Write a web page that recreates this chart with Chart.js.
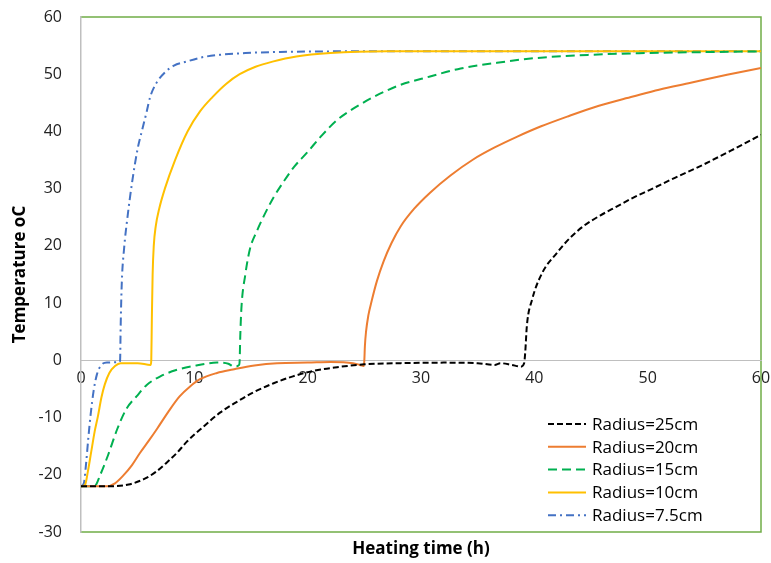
<!DOCTYPE html>
<html>
<head>
<meta charset="utf-8">
<script src="https://cdn.jsdelivr.net/npm/chart.js@4.4.1/dist/chart.umd.min.js"></script>
<style>
  html, body { margin: 0; padding: 0; background: #fff; }
  #wrap { width: 771px; height: 563px; position: relative; }
</style>
</head>
<body>
<div id="wrap"><canvas id="heatChart"></canvas></div>
<script>
// Heating curves, time in hours / temperature in oC
const r25Time = [0, 2.8, 4.2, 5.5, 6.6, 7.6, 8.5, 9.3, 10.8, 12.3, 13.8, 15.2, 17, 18.7, 20.6, 22.6, 25, 28, 32, 35, 36.5, 37, 38, 38.8,
  39.1, 39.2, 39.34, 39.8, 40.7, 42.0, 43.1, 44.3, 45.8, 47.3, 48.7, 50.2, 52.4, 54.6, 57.3, 60];
const r25Temp = [-22, -22, -21.7, -20.8, -19.5, -17.8, -16.1, -14.3, -11.6, -9.1, -7.2, -5.6, -4, -2.8, -1.8, -1.2, -0.7, -0.5, -0.4, -0.5, -0.8, -0.5, -0.8, -1.1,
  -0.5, 1.5, 6.0, 10.6, 15.3, 18.8, 21.3, 23.4, 25.3, 26.9, 28.4, 29.8, 31.9, 33.9, 36.6, 39.4];

const r20Time = [0, 2.3, 3, 3.7, 4.5, 5.2, 6, 6.7, 7.7, 8.7, 9.6, 10.5, 12, 13.4, 15.3, 17.3, 20, 22, 24, 24.6, 24.95,
  25.0, 25.05, 25.15, 25.35, 25.65, 26.1, 26.7, 27.4, 28.2, 29.4, 30.8, 32.6, 34.6, 36.5, 38.5, 40.6, 42.9, 45.7, 48.7, 51, 53.8, 57, 60];
const r20Temp = [-22, -22, -21.5, -20.2, -18.3, -16.2, -14, -12, -9, -6.3, -4.6, -3.3, -2.2, -1.6, -0.9, -0.5, -0.4, -0.3, -0.5, -0.8, -1.0,
  0, 2.5, 5, 7.8, 10.4, 13.8, 17.3, 20.5, 23.4, 26.5, 29.3, 32.3, 35.1, 37.2, 39.1, 40.9, 42.6, 44.5, 46.1, 47.3, 48.5, 49.9, 51.1];

const r15Time = [0, 1.2, 1.7, 2.4, 3.2, 4.0, 4.9, 5.8, 7, 8.4, 9.9, 12, 13, 13.5, 13.95,
  14.0, 14.05, 14.15, 14.5, 14.9, 15.5, 16.2, 17.0, 17.8, 18.8, 19.9, 21.2, 22.6, 24.2, 25.8, 28, 30.8, 33.5, 36.7, 40, 45, 50, 60];
const r15Temp = [-22, -22, -20, -16.5, -12, -8.5, -6.3, -4.3, -2.8, -1.7, -1, -0.4, -0.6, -1.1, -0.8,
  0, 4, 9, 15, 19.4, 22.5, 25.5, 28.5, 31, 33.8, 36.2, 39.2, 42, 44.2, 46, 48, 49.6, 51, 52, 52.8, 53.4, 53.7, 54];

const r10Time = [0, 0.35, 0.6, 0.9, 1.2, 1.5, 1.8, 2.1, 2.5, 3.0, 3.5, 5, 6.15,
  6.2, 6.25, 6.32, 6.42, 6.6, 6.9, 7.4, 8.3, 9.4, 10.5, 11.6, 12.8, 14, 15.4, 16.9, 19, 22, 27, 60];
const r10Temp = [-22, -21.8, -19.5, -16, -12.5, -9.7, -6.5, -4.2, -2.2, -1, -0.5, -0.5, -0.8,
  0, 7, 15, 20, 23.5, 26.5, 30, 35, 40, 43.5, 46, 48.3, 50, 51.3, 52.2, 53.1, 53.7, 54, 54];

const r75Time = [0, 0.25, 0.45, 0.65, 0.85, 1.1, 1.4, 1.8, 2.3, 3.4,
  3.45, 3.5, 3.6, 3.8, 4.1, 4.5, 5.0, 5.4, 5.8, 6.1, 6.6, 7.4, 8.2, 9.3, 10.8, 12.3, 14.5, 17.6, 25, 60];
const r75Temp = [-22, -21.5, -18, -13.5, -9.5, -5.5, -2.5, -0.8, -0.4, -0.3,
  0, 6, 13.6, 19.5, 25, 31, 37, 40.3, 43.5, 46, 48.3, 50.3, 51.5, 52.2, 53, 53.4, 53.7, 53.9, 54, 54];

const seriesNames = ['Radius=25cm', 'Radius=20cm', 'Radius=15cm', 'Radius=10cm', 'Radius=7.5cm'];
const xTicks = [0, 10, 20, 30, 40, 50, 60];
const yTicks = [-30, -20, -10, 0, 10, 20, 30, 40, 50, 60];

const pts = (xs, ys) => xs.map((x, i) => ({ x: x, y: ys[i] }));

const FONT = "'Open Sans', 'Noto Sans', sans-serif";

const lineStyles = [
  { color: '#000000', dash: [6, 3] },
  { color: '#ED7D31', dash: [] },
  { color: '#00B050', dash: [9, 5] },
  { color: '#FFC000', dash: [] },
  { color: '#4472C4', dash: [8, 4, 2, 4] }
];

const seriesData = [
  pts(r25Time, r25Temp),
  pts(r20Time, r20Temp),
  pts(r15Time, r15Temp),
  pts(r10Time, r10Temp),
  pts(r75Time, r75Temp)
];

// green frame around the plot area, left edge stays the grey axis line
const plotFrame = {
  id: 'plotFrame',
  beforeDraw(chart) {
    const { ctx, chartArea: a } = chart;
    ctx.save();
    ctx.strokeStyle = '#70AD47';
    ctx.lineWidth = 1.5;
    ctx.beginPath();
    ctx.moveTo(a.left, a.top);
    ctx.lineTo(a.right, a.top);
    ctx.lineTo(a.right, a.bottom);
    ctx.lineTo(a.left, a.bottom);
    ctx.stroke();
    ctx.restore();
  },
  afterDraw(chart) {
    const { ctx, chartArea: a } = chart;
    ctx.save();
    // x axis title under the plot
    ctx.fillStyle = '#000';
    ctx.font = "bold 17px " + FONT;
    ctx.textAlign = 'center';
    ctx.textBaseline = 'middle';
    ctx.fillText('Heating time (h)', (a.left + a.right) / 2, a.bottom + 17);

    // legend box in the lower right corner
    ctx.font = "17px " + FONT;
    ctx.textAlign = 'left';
    chart.data.datasets.forEach((ds, i) => {
      const y = a.bottom - 108 + i * 22.8;
      const x0 = a.right - 213;
      ctx.strokeStyle = ds.borderColor;
      ctx.lineWidth = 2;
      ctx.setLineDash(ds.borderDash || []);
      ctx.beginPath();
      ctx.moveTo(x0, y);
      ctx.lineTo(x0 + 38, y);
      ctx.stroke();
      ctx.setLineDash([]);
      ctx.fillStyle = '#000';
      ctx.fillText(ds.label, x0 + 44, y + 1);
    });
    ctx.restore();
  }
};

new Chart(document.getElementById('heatChart'), {
  type: 'line',
  data: {
    datasets: seriesData.map((d, i) => ({
      label: seriesNames[i],
      data: d,
      borderColor: lineStyles[i].color,
      backgroundColor: lineStyles[i].color,
      borderDash: lineStyles[i].dash,
      borderWidth: 2,
      pointRadius: 0,
      fill: false,
      cubicInterpolationMode: 'monotone'
    }))
  },
  options: {
    responsive: true,
    maintainAspectRatio: false,
    animation: false,
    layout: { padding: { top: 17, right: 10, bottom: 31, left: 0 } },
    plugins: {
      legend: { display: false },
      tooltip: { enabled: false }
    },
    scales: {
      x: {
        type: 'linear',
        position: { y: 0 },
        min: 0,
        max: 60,
        afterBuildTicks: (scale) => { scale.ticks = xTicks.map(v => ({ value: v })); },
        afterFit: (scale) => { scale.paddingLeft = 0; scale.paddingRight = 0; },
        grid: { display: false, drawTicks: false },
        border: { display: true, color: '#BFBFBF', width: 1 },
        ticks: { color: '#222', padding: 9, font: { size: 16, family: FONT }, maxRotation: 0 }
      },
      y: {
        min: -30,
        max: 60,
        afterBuildTicks: (scale) => { scale.ticks = yTicks.map(v => ({ value: v })); },
        afterFit: (scale) => { scale.width = 81; scale.paddingTop = 0; scale.paddingBottom = 0; },
        grid: { display: false, drawTicks: false },
        border: { display: true, color: '#BFBFBF', width: 1.5 },
        ticks: { color: '#222', padding: 19, font: { size: 16, family: FONT } },
        title: {
          display: true,
          text: 'Temperature oC',
          color: '#000',
          font: { size: 17, weight: 'bold', family: FONT },
          padding: { top: 10, bottom: 0 }
        }
      }
    }
  },
  plugins: [plotFrame]
});
</script>
</body>
</html>
